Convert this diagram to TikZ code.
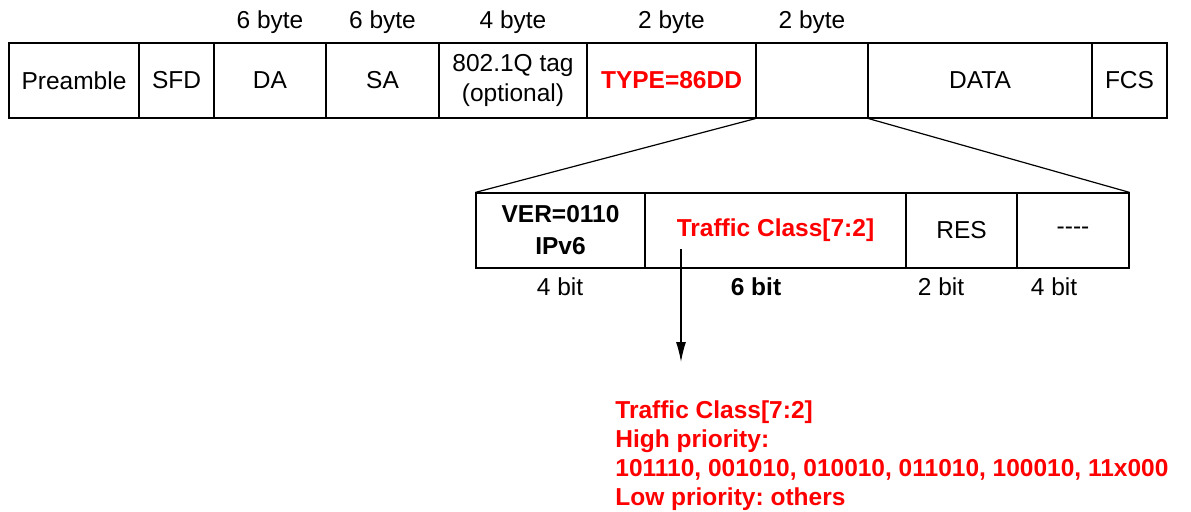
\documentclass[tikz,border=0pt]{standalone}
\usepackage{fontspec}
\setmainfont{Liberation Sans}
\usetikzlibrary{arrows.meta}
\newcommand{\pktfont}{\fontsize{12.25}{15}\selectfont\frenchspacing}
\begin{document}
\begin{tikzpicture}[x=0.5pt,y=-0.5pt,
    every node/.append style={font=\pktfont},
    cell/.style={draw,line width=0.6pt,minimum height=37.5pt,inner sep=0pt,align=center},
    redtxt/.style={text=red,font=\pktfont\bfseries}]
    \useasboundingbox (0,0) rectangle (1191,511);
    % ethernet frame
    \node[cell,minimum width=65pt]   (pre)  at (74,80.5)    {Preamble};
    \node[cell,minimum width=37.5pt] (sfd)  at (176.5,80.5) {SFD};
    \node[cell,minimum width=56pt]   (da)   at (270,80.5)   {DA};
    \node[cell,minimum width=56.5pt] (sa)   at (382.5,80.5) {SA};
    \node[cell,minimum width=74pt,font=\fontsize{12.25}{15}\selectfont] (tag) at (513,80.5) {802.1Q tag\\(optional)};
    \node[cell,minimum width=84.5pt,redtxt] (type) at (671.5,80.5) {TYPE=86DD};
    \node[cell,minimum width=56pt]   (len)  at (812,80.5)   {};
    \node[cell,minimum width=112pt]  (data) at (980,80.5)   {DATA};
    \node[cell,minimum width=37.5pt] (fcs)  at (1129.5,80.5) {FCS};
    \node (bda)   at (270,22)   {6 byte};
    \node (bsa)   at (382.5,22) {6 byte};
    \node (btag)  at (513,22)   {4 byte};
    \node (btype) at (671.5,22) {2 byte};
    \node (blen)  at (812,22)   {2 byte};
    % ipv6 header start
    \node[cell,minimum width=84.5pt,font=\fontsize{12.25}{16}\selectfont\bfseries] (ver) at (560.5,230.5) {VER=0110\\IPv6};
    \node[cell,minimum width=130.5pt,redtxt] (tc)   at (775.5,230.5) {Traffic Class[7:2]};
    \node[cell,minimum width=55.5pt] (res)  at (961.5,230.5) {RES};
    \node[cell,minimum width=56pt]   (rest) at (1073,230.5)  {-{}-{}-{}-};
    \node (bver)  at (560,287)  {4 bit};
    \node[font=\pktfont\bfseries] (btc) at (756,287) {6 bit};
    \node (bres)  at (941,287)  {2 bit};
    \node (brest) at (1054,287) {4 bit};
    \draw[line width=0.6pt] (len.south west) -- (ver.north west);
    \draw[line width=0.6pt] (len.south east) -- (rest.north east);
    % priority
    \coordinate (tcfoot) at (681,249);
    \coordinate (tip) at (681,362);
    \draw[line width=0.6pt,-{Latex[length=10pt,width=5pt]}] (tcfoot) -- (tip);
    \node[redtxt,anchor=north west,align=left,inner sep=0pt,font=\fontsize{12.25}{14.5}\selectfont\bfseries\frenchspacing] (prio) at (615,400)
        {Traffic Class[7:2]\\High priority:\\101110, 001010, 010010, 011010, 100010, 11x000\\Low priority: others};
\end{tikzpicture}
\end{document}
